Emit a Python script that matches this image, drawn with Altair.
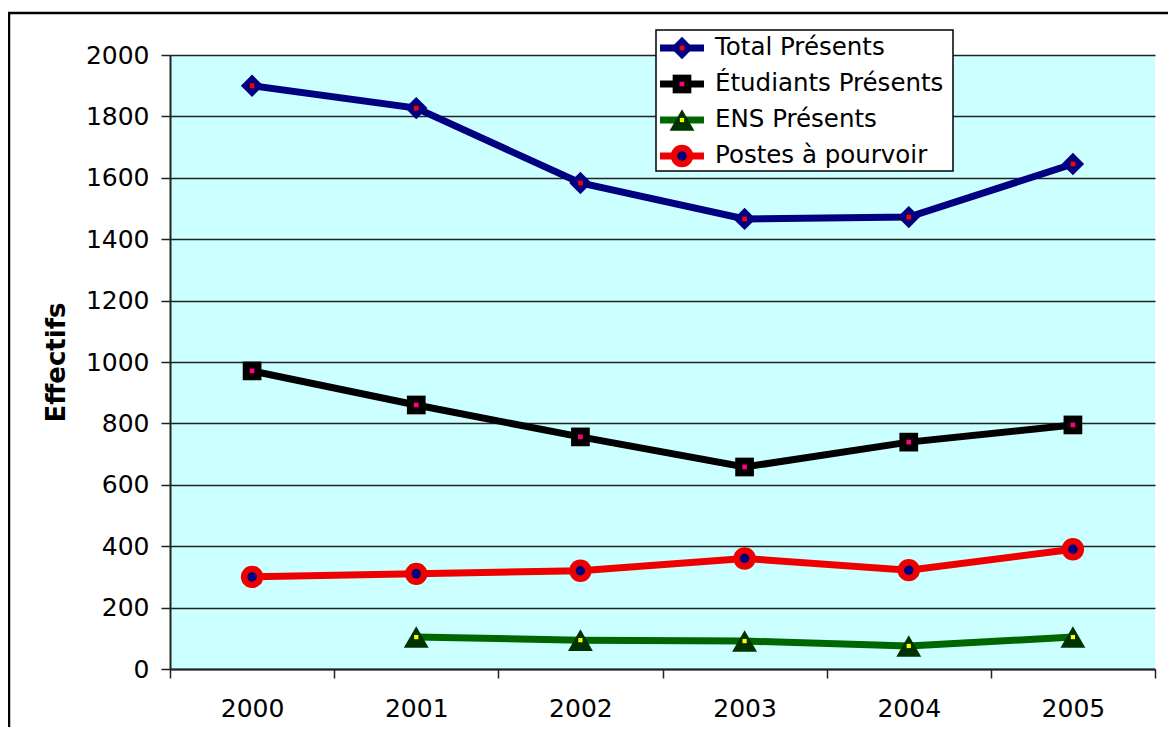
import altair as alt
import pandas as pd

# ---- data ----
years = ["2000", "2001", "2002", "2003", "2004", "2005"]
series_names = ["Total Présents", "Étudiants Présents", "ENS Présents", "Postes à pourvoir"]
total = [1900, 1827, 1583, 1466, 1472, 1645]
etudiants = [971, 860, 756, 658, 739, 795]
ens = [None, 104, 94, 91, 75, 104]
postes = [300, 310, 320, 360, 322, 390]
y_ticks = [0, 200, 400, 600, 800, 1000, 1200, 1400, 1600, 1800, 2000]

# ---- styles ----
line_colors = ["#000080", "#000000", "#006600", "#EE0000"]
marker_colors = ["#000080", "#000000", "#003300", "#EE0000"]
marker_shapes = ["diamond", "square", "triangle-up", "circle"]
marker_sizes = [500, 350, 620, 500]
inner_colors = ["#FF0000", "#FF0080", "#FFFF00", "#000080"]
inner_shapes = ["square", "square", "square", "circle"]
inner_sizes = [22, 22, 18, 90]

FONT = "DejaVu Sans"

rows = []
for i, (name, vals) in enumerate(zip(series_names, [total, etudiants, ens, postes])):
    for yr, v in zip(years, vals):
        if v is None:
            continue
        rows.append(dict(series=name, year=yr, value=v,
                         mcolor=marker_colors[i], mshape=marker_shapes[i], msize=marker_sizes[i],
                         icolor=inner_colors[i], ishape=inner_shapes[i], isize=inner_sizes[i]))
df = pd.DataFrame(rows)

legend_df = pd.DataFrame(dict(
    series=series_names, lcolor=line_colors,
    mcolor=marker_colors, mshape=marker_shapes, msize=marker_sizes,
    icolor=inner_colors, ishape=inner_shapes, isize=inner_sizes,
))

x_enc = alt.X(
    "year:O", title=None, bandPosition=0.5,
    scale=alt.Scale(type="band", paddingInner=0, paddingOuter=0, domain=years),
    axis=alt.Axis(tickBand="extent", labelAngle=0, labelFont=FONT, labelFontSize=25,
                  labelColor="black", tickSize=9, tickColor="#222", tickWidth=1.5,
                  domainColor="#222", domainWidth=2, grid=False, labelPadding=18),
)
y_enc = alt.Y(
    "value:Q", title="Effectifs",
    scale=alt.Scale(domain=[0, 2000], nice=False, zero=True),
    axis=alt.Axis(values=y_ticks, format="d", labelFont=FONT, labelFontSize=25, labelColor="black",
                  tickSize=9, tickColor="#222", tickWidth=1.5, domainColor="#222", domainWidth=2,
                  grid=True, gridColor="#222", gridWidth=1.5, labelPadding=12,
                  titleFont=FONT, titleFontSize=26, titleFontWeight="bold", titleColor="black",
                  titlePadding=16),
)

base = alt.Chart(df)

lines = base.mark_line(strokeWidth=7).encode(
    x=x_enc, y=y_enc,
    stroke=alt.Stroke("series:N", sort=series_names,
                      scale=alt.Scale(domain=series_names, range=line_colors), legend=None),
)

markers = base.mark_point(filled=True, opacity=1).encode(
    x=x_enc, y=y_enc,
    shape=alt.Shape("mshape:N", scale=None),
    color=alt.Color("mcolor:N", scale=None),
    size=alt.Size("msize:Q", scale=None),
)

inner = base.mark_point(filled=True, opacity=1).encode(
    x=x_enc, y=y_enc,
    shape=alt.Shape("ishape:N", scale=None),
    color=alt.Color("icolor:N", scale=None),
    size=alt.Size("isize:Q", scale=None),
)

border = alt.Chart(pd.DataFrame({"k": [0]})).mark_rect(
    filled=False, stroke="black", strokeWidth=2.5
).encode(x=alt.value(-161), x2=alt.value(1030), y=alt.value(-42), y2=alt.value(705))

main = alt.layer(border, lines, markers, inner)

# ---- legend box (own scale for its rows) ----
leg_y = alt.Y("series:N", sort=series_names, axis=None,
              scale=alt.Scale(type="point", domain=series_names, range=[-7, 101], padding=0))
lbase = alt.Chart(legend_df)

leg_box = alt.Chart(pd.DataFrame({"k": [0]})).mark_rect(
    fill="white", stroke="black", strokeWidth=1.5
).encode(x=alt.value(486), x2=alt.value(783), y=alt.value(-25), y2=alt.value(116))

leg_line = lbase.mark_rule(strokeWidth=7).encode(
    x=alt.value(490), x2=alt.value(534), y=leg_y,
    color=alt.Color("lcolor:N", scale=None),
)
leg_mark = lbase.mark_point(filled=True, opacity=1).encode(
    x=alt.value(512), y=leg_y,
    shape=alt.Shape("mshape:N", scale=None),
    color=alt.Color("mcolor:N", scale=None),
    size=alt.Size("msize:Q", scale=None),
)
leg_inner = lbase.mark_point(filled=True, opacity=1).encode(
    x=alt.value(512), y=leg_y,
    shape=alt.Shape("ishape:N", scale=None),
    color=alt.Color("icolor:N", scale=None),
    size=alt.Size("isize:Q", scale=None),
)
leg_text = lbase.mark_text(align="left", baseline="middle", font=FONT, fontSize=24.5,
                           color="black").encode(
    x=alt.value(545), y=leg_y, text="series:N",
)

legend = alt.layer(leg_box, leg_line, leg_mark, leg_inner, leg_text)

chart = alt.layer(main, legend).resolve_scale(y="independent").properties(
    width=985, height=614,
    autosize=alt.AutoSizeParams(type="none"),
    padding={"left": 162, "top": 47, "right": 13, "bottom": 58},
    background="white",
).configure_view(fill="#CCFFFF", strokeWidth=0)

chart.save("out.html", embed_options={"renderer": "svg", "actions": False})
